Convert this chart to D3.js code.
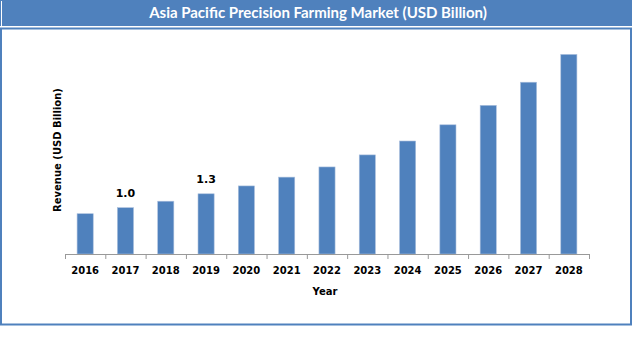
<!DOCTYPE html>
<html>
<head>
<meta charset="utf-8">
<script src="https://cdn.jsdelivr.net/npm/d3@7"></script>
<style>
  body { margin: 0; background: #fff; }
  text { font-family: "DejaVu Sans", Verdana, sans-serif; }
</style>
</head>
<body>
<div id="chart"></div>
<script>
// chart data
var years = ["2016", "2017", "2018", "2019", "2020", "2021", "2022", "2023", "2024", "2025", "2026", "2027", "2028"];
var revenue = [0.87, 1.0, 1.14, 1.3, 1.47, 1.66, 1.88, 2.14, 2.44, 2.79, 3.21, 3.71, 4.31];
var labelled = {"2017": "1.0", "2019": "1.3"};

var width = 641, height = 362;
var blue = "#4f81bd";

var svg = d3.select("#chart").append("svg")
  .attr("width", width)
  .attr("height", height);

// title bar
svg.append("rect").attr("x", 0).attr("y", 0).attr("width", 632).attr("height", 26).attr("fill", blue);
svg.append("line").attr("x1", 1.5).attr("x2", 1.5).attr("y1", 1).attr("y2", 26)
  .attr("stroke", "#fff").attr("stroke-width", 1);
svg.append("text")
  .attr("x", 318).attr("y", 18)
  .attr("text-anchor", "middle")
  .style("font-family", "Lato, 'Open Sans', sans-serif")
  .style("font-weight", "bold")
  .style("font-size", "15px")
  .attr("fill", "#fff")
  .text("Asia Pacific Precision Farming Market (USD Billion)");

// frame of the plot area
svg.append("rect").attr("x", 1).attr("y", 28.5).attr("width", 630).attr("height", 296)
  .attr("fill", "#fff").attr("stroke", blue).attr("stroke-width", 2);

// scales
var x = d3.scaleBand().domain(years).range([65, 589]).paddingInner(0.6).paddingOuter(0.3);
var y = d3.scaleLinear().domain([0, 4.6]).range([254, 41]);

var g = svg.append("g");

g.selectAll(".bar")
  .data(years)
  .enter().append("rect")
  .attr("class", "bar")
  .attr("x", function(d) { return x(d); })
  .attr("width", x.bandwidth())
  .attr("y", function(d, i) { return y(revenue[i]); })
  .attr("height", function(d, i) { return y(0) - y(revenue[i]); })
  .attr("fill", blue)
  .attr("stroke", "#a9bedd")
  .attr("stroke-width", 0.6);

// x axis with ticks on category boundaries
var step = x.step();
g.append("line")
  .attr("x1", 65).attr("x2", 589)
  .attr("y1", y(0) + 0.5).attr("y2", y(0) + 0.5)
  .attr("stroke", "#999").attr("stroke-width", 1);
g.selectAll(".tick")
  .data(d3.range(years.length + 1))
  .enter().append("line")
  .attr("x1", function(i) { return 65 + i * step + 0.5; })
  .attr("x2", function(i) { return 65 + i * step + 0.5; })
  .attr("y1", y(0)).attr("y2", y(0) + 5)
  .attr("stroke", "#999");

g.selectAll(".xlab")
  .data(years)
  .enter().append("text")
  .attr("x", function(d) { return x(d) + x.bandwidth() / 2; })
  .attr("y", 274)
  .attr("text-anchor", "middle")
  .style("font-weight", "bold")
  .style("font-size", "10px")
  .text(function(d) { return d; });

// value labels
g.selectAll(".vlab")
  .data(years.filter(function(d) { return labelled[d]; }))
  .enter().append("text")
  .attr("x", function(d) { return x(d) + x.bandwidth() / 2; })
  .attr("y", function(d) { return y(revenue[years.indexOf(d)]) - 11; })
  .attr("text-anchor", "middle")
  .style("font-weight", "bold")
  .style("font-size", "11px")
  .text(function(d) { return labelled[d]; });

// axis titles
svg.append("text")
  .attr("x", 325).attr("y", 295)
  .attr("text-anchor", "middle")
  .style("font-weight", "bold")
  .style("font-size", "10px")
  .text("Year");

svg.append("text")
  .attr("transform", "translate(61,150) rotate(-90)")
  .attr("text-anchor", "middle")
  .style("font-weight", "bold")
  .style("font-size", "10px")
  .text("Revenue (USD Billion)");
</script>
</body>
</html>
